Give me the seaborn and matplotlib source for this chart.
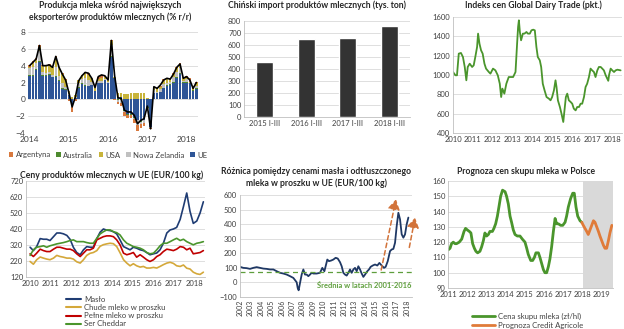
import numpy as np
import pandas as pd
import matplotlib
matplotlib.use("Agg")
import matplotlib.pyplot as plt
from matplotlib.patches import Patch
from matplotlib.lines import Line2D
import seaborn as sns

# ---------------- DATA ----------------
# Panel 1: milk production growth of main exporters (% y/y), monthly Jan 2014 - Apr 2018
p1_year_labels = ["2014", "2015", "2016", "2017", "2018"]
p1_ue = [2.8, 2.8, 3.5, 4.4, 2.8, 2.8, 2.9, 2.6, 2.7, 2.2, 1.2, 1.1,
         0.5, -0.6, 0.2, 1.4, 1.8, 1.6, 1.6, 1.7, 1.0, 2.0, 2.0, 2.3,
         2.0, 5.0, 2.5, 0.2, 0.3, -1.3, -1.8, -1.8, -2.1, -2.4, -2.6, -2.4,
         -0.9, -3.3, 0.8, 0.8, 0.9, 1.3, 1.6, 1.7, 2.0, 2.5, 3.0, 2.0,
         2.0, 1.9, 1.0, 1.2]
p1_au = [0.1, 0.1, 0.1, 0.1, 0.1, 0.1, 0.1, 0.1, 0.1, 0.1, 0.1, 0.1,
         0.0, 0.0, 0.0, 0.1, 0.1, 0.1, 0.0, 0.0, 0.0, 0.0, 0.0, 0.0,
         0.0, 0.1, 0.0, -0.1, -0.1, -0.1, -0.1, -0.1, -0.1, -0.1, -0.1, -0.1,
         -0.1, 0.0, 0.0, 0.0, 0.0, 0.1, 0.1, 0.1, 0.1, 0.1, 0.1, 0.1,
         0.1, 0.1, 0.1, 0.1]
p1_nz = [0.8, 1.0, 0.7, 1.2, 0.3, 0.2, 0.2, 0.2, 1.1, 0.5, 0.7, 0.3,
         0.1, -0.3, 0.1, 0.5, 0.5, 0.8, 0.7, 0.4, 0.0, 0.2, 0.2, 0.1,
         0.1, 1.4, 0.0, -0.2, -0.3, -0.1, 0.0, 0.0, -0.1, -0.6, -0.2, -0.3,
         -0.1, -0.1, 0.3, 0.1, 0.3, 0.4, 0.3, 0.3, 0.5, 0.6, 0.6, 0.1,
         0.3, -0.1, 0.0, 0.3]
p1_usa = [0.2, 0.4, 0.4, 0.5, 0.8, 0.9, 0.9, 0.9, 1.1, 1.0, 1.0, 0.8,
          0.4, 0.3, 0.2, 0.3, 0.5, 0.6, 0.6, 0.4, 0.3, 0.2, 0.3, 0.3,
          0.2, 0.4, 0.2, 0.5, 0.5, 0.6, 0.6, 0.7, 0.8, 0.8, 0.8, 0.8,
          0.2, 0.0, 0.3, 0.3, 0.3, 0.4, 0.4, 0.3, 0.4, 0.5, 0.4, 0.3,
          0.2, 0.1, 0.1, 0.3]
p1_ar = [0.2, 0.2, 0.2, 0.3, 0.1, 0.1, 0.1, 0.1, 0.2, 0.1, 0.1, 0.1,
         -0.2, -0.6, -0.2, 0.0, 0.0, 0.2, 0.2, 0.0, 0.1, 0.3, 0.4, 0.1,
         0.0, 0.2, -0.1, -0.3, -0.4, -0.5, -0.3, -0.3, -0.5, -0.7, -0.5, -0.4,
         0.0, -0.1, 0.1, 0.1, 0.1, 0.2, 0.1, 0.1, 0.1, 0.2, 0.2, 0.1,
         0.2, 0.4, 0.2, 0.2]
p1_total = [4.0, 4.4, 4.8, 6.4, 4.0, 4.0, 4.1, 3.8, 5.1, 3.8, 3.0, 2.3,
            0.8, -0.9, 0.3, 2.2, 2.8, 3.2, 3.1, 2.5, 1.4, 2.7, 2.9, 2.8,
            2.3, 7.0, 2.8, 0.2, 0.1, -1.3, -1.5, -1.5, -1.9, -2.9, -2.5, -2.3,
            -0.8, -3.5, 1.5, 1.3, 1.7, 2.3, 2.5, 2.4, 3.0, 3.8, 4.2, 2.5,
            2.7, 2.3, 1.3, 2.0]
p1_names = ["Argentyna", "Australia", "USA", "Nowa Zelandia", "UE"]

# Panel 2: Chinese dairy imports (thousand t)
p2_periods = ["2015 I-III", "2016 I-III", "2017 I-III", "2018 I-III"]
p2_values = [455, 650, 655, 755]

# Panel 3: GDT price index
p3_years = [2010.00, 2010.12, 2010.20, 2010.29, 2010.40, 2010.50, 2010.59, 2010.67, 2010.74, 2010.84,
            2010.96, 2011.04, 2011.12, 2011.21, 2011.26, 2011.33, 2011.41, 2011.49, 2011.58, 2011.66,
            2011.80, 2011.88, 2012.01, 2012.13, 2012.25, 2012.35, 2012.42, 2012.48, 2012.58, 2012.68,
            2012.80, 2012.92, 2013.02, 2013.14, 2013.22, 2013.27, 2013.31, 2013.36, 2013.42, 2013.51,
            2013.59, 2013.69, 2013.76, 2013.86, 2013.94, 2014.03, 2014.11, 2014.19, 2014.26, 2014.36,
            2014.43, 2014.51, 2014.60, 2014.70, 2014.82, 2014.90, 2014.98, 2015.07, 2015.15, 2015.20,
            2015.27, 2015.37, 2015.45, 2015.54, 2015.60, 2015.67, 2015.74, 2015.82, 2015.91, 2015.99,
            2016.07, 2016.16, 2016.24, 2016.33, 2016.41, 2016.49, 2016.58, 2016.66, 2016.74, 2016.83,
            2016.91, 2016.99, 2017.08, 2017.16, 2017.25, 2017.33, 2017.42, 2017.50, 2017.58, 2017.67,
            2017.80, 2017.84, 2017.92, 2018.00, 2018.09, 2018.17, 2018.26, 2018.42]
p3_index = [1031, 997, 997, 1221, 1228, 1186, 1083, 945, 1083, 1117,
            1083, 1100, 1186, 1290, 1428, 1324, 1255, 1221, 1117, 1066,
            1031, 1014, 1066, 1048, 997, 910, 772, 859, 807, 910,
            979, 979, 979, 1031, 1324, 1497, 1566, 1445, 1359, 1428,
            1428, 1445, 1428, 1428, 1462, 1469, 1462, 1290, 1186, 1152,
            1083, 910, 841, 772, 755, 738, 772, 841, 945, 876,
            738, 669, 600, 514, 634, 772, 807, 738, 721, 703,
            652, 634, 669, 669, 703, 703, 772, 876, 910, 979,
            1066, 1048, 1031, 979, 1048, 1083, 1083, 1066, 1048, 997,
            940, 1000, 1066, 1048, 1031, 1048, 1055, 1048]

# Panel 4: EU dairy product prices (EUR/100 kg)
p4_years = [2010.00, 2010.16, 2010.32, 2010.49, 2010.65, 2010.81, 2010.97, 2011.14, 2011.30, 2011.46,
            2011.62, 2011.79, 2011.95, 2012.11, 2012.27, 2012.44, 2012.60, 2012.76, 2012.92, 2013.08,
            2013.25, 2013.41, 2013.57, 2013.73, 2013.90, 2014.06, 2014.22, 2014.38, 2014.55, 2014.71,
            2014.87, 2015.03, 2015.19, 2015.36, 2015.52, 2015.68, 2015.84, 2016.01, 2016.17, 2016.33,
            2016.49, 2016.66, 2016.82, 2016.98, 2017.14, 2017.31, 2017.47, 2017.63, 2017.79, 2017.95,
            2018.12, 2018.28, 2018.44]
p4_maslo = [306, 285, 310, 360, 356, 356, 348, 372, 395, 395,
            390, 380, 355, 305, 273, 259, 290, 310, 306, 306,
            360, 400, 420, 413, 410, 403, 389, 352, 310, 300,
            290, 306, 300, 290, 285, 273, 259, 265, 270, 290,
            330, 395, 414, 420, 430, 480, 560, 645, 530, 455,
            470, 520, 590]
p4_chude = [217, 200, 228, 245, 238, 232, 228, 238, 255, 248,
            244, 238, 238, 232, 215, 207, 228, 255, 268, 273,
            285, 312, 322, 327, 331, 328, 310, 272, 228, 207,
            190, 203, 190, 182, 186, 176, 176, 180, 176, 186,
            197, 207, 212, 205, 190, 186, 195, 175, 170, 150,
            140, 136, 150]
p4_pelne = [265, 248, 269, 294, 285, 279, 279, 294, 306, 306,
            300, 294, 294, 285, 265, 248, 269, 290, 290, 300,
            352, 362, 372, 377, 377, 372, 352, 321, 269, 259,
            265, 273, 244, 259, 244, 228, 217, 228, 248, 259,
            279, 294, 290, 285, 294, 310, 306, 290, 300, 265,
            269, 273, 285]
p4_cheddar = [255, 290, 306, 310, 315, 306, 315, 321, 327, 331,
              335, 341, 348, 352, 341, 341, 341, 335, 331, 331,
              362, 389, 403, 414, 414, 403, 397, 383, 352, 331,
              321, 310, 306, 300, 290, 273, 265, 269, 290, 315,
              331, 331, 341, 352, 362, 348, 356, 341, 331, 321,
              331, 335, 341]
p4_names = ["Masło", "Chude mleko w proszku", "Pełne mleko w proszku", "Ser Cheddar"]

# Panel 5: butter - SMP price spread (EUR/100 kg)
p5_years = [2002.00, 2002.32, 2002.64, 2002.96, 2003.28, 2003.60, 2003.92, 2004.24, 2004.56, 2004.88,
            2005.20, 2005.52, 2005.84, 2006.16, 2006.48, 2006.80, 2007.12, 2007.44, 2007.54, 2007.63,
            2007.76, 2007.92, 2008.08, 2008.24, 2008.40, 2008.56, 2008.72, 2008.88, 2009.04, 2009.36,
            2009.68, 2009.90, 2010.10, 2010.22, 2010.38, 2010.54, 2010.74, 2010.96, 2011.18, 2011.38,
            2011.60, 2011.76, 2011.92, 2012.08, 2012.24, 2012.40, 2012.56, 2012.72, 2012.88, 2013.04,
            2013.20, 2013.36, 2013.52, 2013.68, 2013.84, 2014.00, 2014.22, 2014.38, 2014.54, 2014.74,
            2014.96, 2015.18, 2015.38, 2015.60, 2015.82, 2015.98, 2016.18, 2016.40, 2016.56, 2016.72,
            2016.88, 2017.04, 2017.20, 2017.36, 2017.52, 2017.68, 2017.84, 2018.00, 2018.16]
p5_spread = [107, 100, 98, 93, 100, 105, 100, 95, 93, 89,
             89, 77, 66, 61, 54, 43, 31, 1, -39, -54,
             -4, 54, 89, 54, 54, 43, 54, 66, 61, 61,
             66, 100, 77, 111, 157, 146, 150, 157, 169, 164,
             139, 111, 66, 54, 47, 66, 89, 66, 89, 100,
             77, 111, 89, 61, 38, 54, 77, 89, 107, 116,
             123, 116, 134, 116, 100, 107, 146, 215, 226, 230,
             272, 387, 478, 433, 330, 307, 330, 399, 445]
p5_average = 75
p5_avg_label = "Średnia w latach 2001-2016"
p5_arrow1 = [(2015.55, 85), (2016.97, 570)]
p5_arrow2 = [(2018.25, 240), (2018.80, 445)]

# Panel 6: milk purchase price in Poland (PLN/hl)
p6_years = [2011.00, 2011.09, 2011.17, 2011.26, 2011.35, 2011.43, 2011.57, 2011.70, 2011.82, 2011.90,
            2011.99, 2012.10, 2012.18, 2012.27, 2012.36, 2012.44, 2012.53, 2012.65, 2012.74, 2012.83,
            2012.91, 2013.00, 2013.09, 2013.17, 2013.30, 2013.38, 2013.47, 2013.56, 2013.64, 2013.73,
            2013.83, 2013.96, 2014.04, 2014.13, 2014.22, 2014.30, 2014.39, 2014.48, 2014.60, 2014.74,
            2014.86, 2015.00, 2015.09, 2015.17, 2015.30, 2015.40, 2015.49, 2015.57, 2015.70, 2015.78,
            2015.87, 2015.96, 2016.04, 2016.13, 2016.22, 2016.30, 2016.39, 2016.48, 2016.57, 2016.65,
            2016.74, 2016.86, 2016.97, 2017.09, 2017.17, 2017.26, 2017.38, 2017.49, 2017.57, 2017.66,
            2017.75, 2017.87, 2017.96]
p6_price = [115, 116, 119, 120, 119, 119, 120, 122, 127, 129,
            128, 127, 126, 119, 116, 114, 113, 114, 117, 121,
            126, 124, 125, 127, 127, 129, 132, 137, 143, 150,
            154, 153, 150, 145, 137, 133, 128, 125, 124, 124,
            122, 120, 116, 112, 108, 108, 110, 113, 113, 110,
            106, 102, 100, 100, 104, 109, 117, 127, 135.5, 132,
            132, 131, 131, 133, 137, 143, 148.5, 152, 152, 143,
            137, 134, 133]
p6_fc_years = [2017.96, 2018.04, 2018.13, 2018.22, 2018.30, 2018.39, 2018.48, 2018.57, 2018.65, 2018.74,
               2018.83, 2018.91, 2019.00, 2019.09, 2019.17, 2019.26, 2019.35, 2019.43, 2019.53]
p6_forecast = [133, 131, 129, 127, 125, 128, 131, 134, 133, 130,
               127, 124, 121, 118, 116, 116, 121, 126, 131]
p6_fc_start = 2018.0
p6_names = ["Cena skupu mleka (zł/hl)", "Prognoza Credit Agricole"]

# ---------------- STYLE ----------------
sns.set_theme(style="white")
plt.rcParams["font.family"] = ["Lato", "DejaVu Sans"]

W, H = 624, 329
fig = plt.figure(figsize=(W / 100, H / 100), dpi=100)
TXT = "#404040"
GRID = "#D9D9D9"


def axes_px(x0, y0, x1, y1):
    return fig.add_axes([x0 / W, 1 - y1 / H, (x1 - x0) / W, (y1 - y0) / H])


def style(ax, left=True, bottom=True, size=5.5):
    for s in ["top", "right"]:
        ax.spines[s].set_visible(False)
    ax.spines["left"].set_visible(left)
    ax.spines["bottom"].set_visible(bottom)
    for s in ["left", "bottom"]:
        ax.spines[s].set_color("#BFBFBF")
        ax.spines[s].set_linewidth(0.6)
    ax.yaxis.grid(True, color=GRID, linewidth=0.6)
    ax.xaxis.grid(False)
    ax.set_axisbelow(True)
    ax.tick_params(length=0, labelsize=size, colors=TXT, pad=2)
    ax.set_xlabel("")
    ax.set_ylabel("")


def title(x, y, s, size=6.2):
    fig.text(x / W, 1 - y / H, s, ha="center", va="center", fontsize=size,
             fontweight="bold", color="#262626")


# ---------------- Panel 1 ----------------
ax1 = axes_px(28, 32, 198, 133)
n1 = len(p1_total)
idx = np.arange(n1)
colors1 = {"UE": "#2E5597", "Australia": "#4E8A2E", "Nowa Zelandia": "#C0C0C0",
           "USA": "#C8B43A", "Argentyna": "#D8793E"}
stack = [("UE", p1_ue), ("Australia", p1_au), ("Nowa Zelandia", p1_nz),
         ("USA", p1_usa), ("Argentyna", p1_ar)]
pos_base = np.zeros(n1)
neg_base = np.zeros(n1)
for name, vals in stack:
    v = np.asarray(vals, dtype=float)
    bottom = np.where(v >= 0, pos_base, neg_base)
    ax1.bar(idx, v, bottom=bottom, width=0.78, color=colors1[name], linewidth=0)
    pos_base += np.clip(v, 0, None)
    neg_base += np.clip(v, None, 0)
sns.lineplot(x=idx, y=p1_total, ax=ax1, color="black", linewidth=1.2)
ax1.set_xlim(-0.5, n1 - 0.5)
ax1.set_ylim(-4, 8)
ax1.set_yticks(range(-4, 9, 2))
ax1.set_xticks([0, 12, 24, 36, 48])
ax1.set_xticklabels(p1_year_labels)
style(ax1, left=False, bottom=False, size=6)
title(110, 6, "Produkcja mleka wśród największych")
title(110, 17, "eksporterów produktów mlecznych (% r/r)")
h1 = [Patch(facecolor=colors1[nm], edgecolor="none") for nm in p1_names]
fig.legend(h1, p1_names, loc="center", bbox_to_anchor=(108 / W, 1 - 155 / H), ncol=5,
           frameon=False, fontsize=5.6, handlelength=0.6, handleheight=0.6,
           handletextpad=0.3, columnspacing=0.7, labelcolor=TXT)

# ---------------- Panel 2 ----------------
ax2 = axes_px(244, 21, 410, 117)
df2 = pd.DataFrame({"period": p2_periods, "value": p2_values})
sns.barplot(data=df2, x="period", y="value", ax=ax2, color="#333333",
            saturation=1, width=0.4, errorbar=None)
ax2.set_ylim(0, 800)
ax2.set_yticks(range(0, 801, 100))
ax2.set_xlim(-0.5, 3.5)
style(ax2)
title(317, 5, "Chiński import produktów mlecznych (tys. ton)")

# ---------------- Panel 3 ----------------
ax3 = axes_px(453, 17, 622, 133)
sns.lineplot(x=p3_years, y=p3_index, ax=ax3, color="#4A952C", linewidth=1.3)
ax3.set_xlim(2010, 2018.49)
ax3.set_ylim(400, 1600)
ax3.set_yticks(range(400, 1601, 200))
ax3.set_xticks(range(2010, 2019))
ax3.set_xticklabels([str(y) for y in range(2010, 2019)])
style(ax3)
title(533, 5, "Indeks cen Global Dairy Trade (pkt.)")

# ---------------- Panel 4 ----------------
ax4 = axes_px(26, 181, 205, 277)
colors4 = ["#1F3C73", "#D4A83A", "#C00000", "#4A952C"]
for vals, col in zip([p4_maslo, p4_chude, p4_pelne, p4_cheddar], colors4):
    sns.lineplot(x=p4_years, y=vals, ax=ax4, color=col, linewidth=1.2)
ax4.set_xlim(2009.8, 2018.52)
ax4.set_ylim(120, 720)
ax4.set_yticks(range(120, 721, 100))
ax4.set_xticks(range(2010, 2019))
ax4.set_xticklabels([str(y) for y in range(2010, 2019)])
style(ax4)
title(112, 175, "Ceny produktów mlecznych w UE (EUR/100 kg)")
h4 = [Line2D([0], [0], color=c, linewidth=1.5) for c in colors4]
fig.legend(h4, p4_names, loc="upper left", bbox_to_anchor=(62 / W, 1 - 292 / H),
           frameon=False, fontsize=5.6, handlelength=2.0, handletextpad=0.3,
           labelspacing=0.15, borderpad=0, labelcolor=TXT)

# ---------------- Panel 5 ----------------
ax5 = axes_px(240, 195, 411.7, 297)
sns.lineplot(x=p5_years, y=p5_spread, ax=ax5, color="#1F3864", linewidth=1.3)
ax5.axhline(p5_average, color="#5E9E3C", linewidth=0.9, linestyle=(0, (4, 3)))
ax5.set_xlim(2002, 2018.48)
ax5.set_ylim(-100, 600)
ax5.set_yticks(range(-100, 601, 100))
ax5.set_xticks(range(2002, 2019))
ax5.set_xticklabels([str(y) for y in range(2002, 2019)], rotation=90)
style(ax5)
ax5.tick_params(axis="x", labelsize=5)
ax5.text(2018.45, -20, p5_avg_label, ha="right", va="center", fontsize=5.4,
         color="#5E9E3C", fontweight="bold")
for (x0, y0), (x1, y1) in [p5_arrow1, p5_arrow2]:
    ax5.annotate("", xy=(x1, y1), xytext=(x0, y0), annotation_clip=False,
                 arrowprops=dict(arrowstyle="-|>,head_length=0.5,head_width=0.3",
                                 color="#D2733A", linewidth=1.1, linestyle=(0, (3, 2)),
                                 shrinkA=0, shrinkB=0))
title(316, 172, "Różnica pomiędzy cenami masła i odtłuszczonego")
title(316, 183, "mleka w proszku w UE (EUR/100 kg)")

# ---------------- Panel 6 ----------------
ax6 = axes_px(448.3, 181, 613, 288)
ax6.axvspan(p6_fc_start, 2019.6, color="#D9D9D9", linewidth=0, zorder=0)
sns.lineplot(x=p6_years, y=p6_price, ax=ax6, color="#4A952C", linewidth=2.0)
sns.lineplot(x=p6_fc_years, y=p6_forecast, ax=ax6, color="#E07B39", linewidth=2.0)
ax6.set_xlim(2011, 2019.59)
ax6.set_ylim(90, 160)
ax6.set_yticks(range(90, 161, 10))
ax6.set_xticks(range(2011, 2020))
ax6.set_xticklabels([str(y) for y in range(2011, 2020)])
style(ax6)
title(526, 172, "Prognoza cen skupu mleka w Polsce")
h6 = [Line2D([0], [0], color=c, linewidth=2.0) for c in ["#4A952C", "#E07B39"]]
fig.legend(h6, p6_names, loc="upper left", bbox_to_anchor=(468 / W, 1 - 309 / H),
           frameon=False, fontsize=5.6, handlelength=3.0, handletextpad=0.3,
           labelspacing=0.2, borderpad=0, labelcolor=TXT)

fig.savefig("out.png", dpi=100, facecolor="white")
